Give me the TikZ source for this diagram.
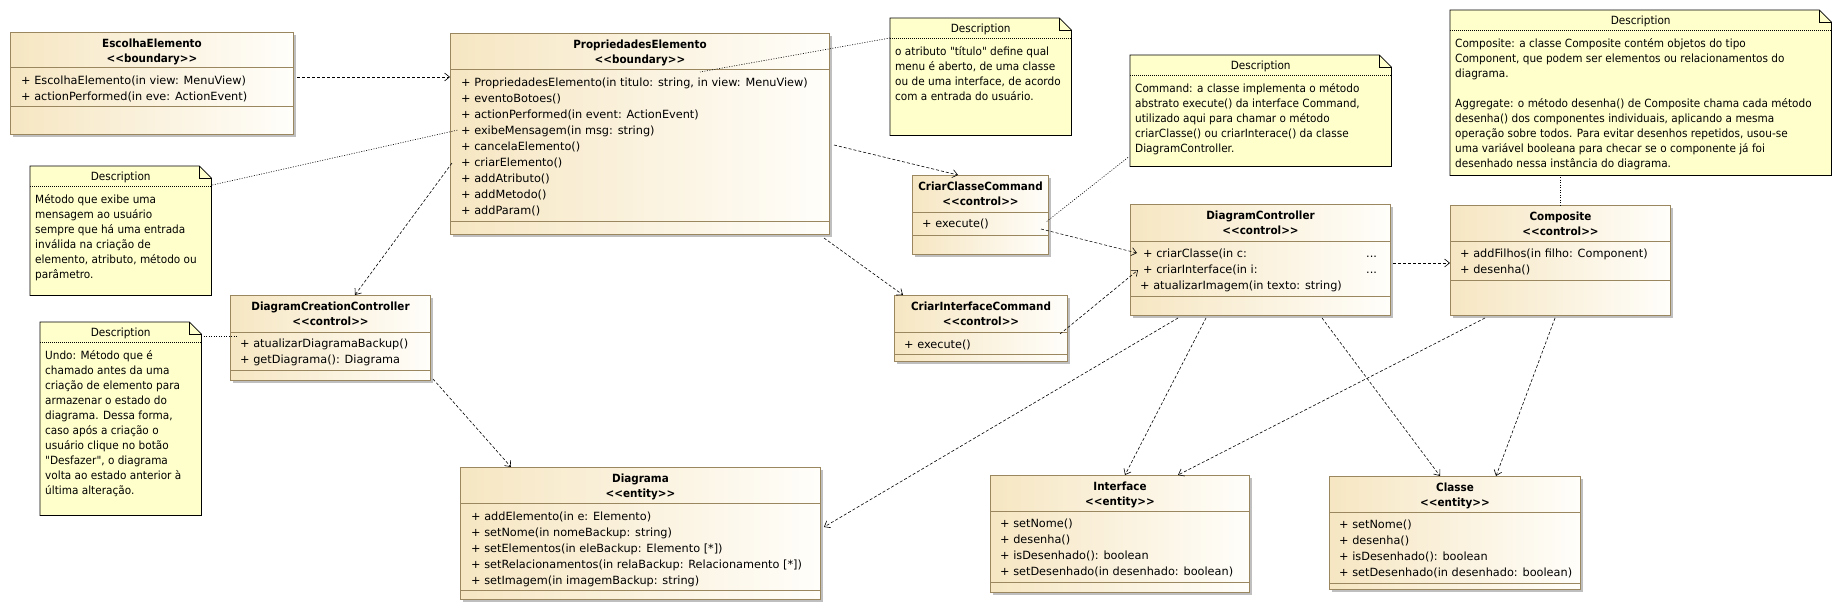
\documentclass[tikz,border=0pt]{standalone}
\usepackage{fontspec}
\setmainfont{DejaVu Sans}
\newfontfamily\tfont[FakeStretch=0.92]{DejaVu Sans}
\newfontfamily\nfont[FakeStretch=0.93]{DejaVu Sans}
\usetikzlibrary{calc,arrows.meta,shadows}
\definecolor{cborder}{RGB}{155,135,95}
\definecolor{ctan}{RGB}{246,230,194}
\definecolor{cwhite}{RGB}{255,254,250}
\definecolor{notefill}{RGB}{255,255,204}
\tikzset{
 classbox/.style={rectangle, draw=cborder, line width=1pt, left color=ctan, right color=cwhite, inner sep=0pt, anchor=north west,
   drop shadow={shadow xshift=2pt, shadow yshift=-2pt, fill=black, opacity=0.25}},
 classline/.style={draw=cborder, line width=1pt},
 ttext/.style={font=\tfont\bfseries\fontsize{11.3}{14}\selectfont, inner sep=0pt, anchor=base},
 htext/.style={font=\nfont\fontsize{11.3}{14}\selectfont, inner sep=0pt, anchor=base},
 mtext/.style={font=\fontsize{11.3}{14}\selectfont, inner sep=0pt, anchor=base west},
 ntext/.style={font=\nfont\fontsize{11.3}{14}\selectfont, inner sep=0pt, anchor=base west},
 notebody/.style={draw=none, fill=none, inner sep=0pt, anchor=north west},
 noteshape/.style={draw=black, fill=notefill, line width=0.8pt},
 dep/.style={draw=black, line width=0.6pt, dash pattern=on 3pt off 2pt, -{Straight Barb[length=5pt,width=8pt]}},
 notelink/.style={draw=black, line width=0.6pt, dash pattern=on 1pt off 1.5pt},
}
% name, pos, w, h, h1, h2
\newcommand{\umlbox}[6]{%
 \node[classbox, minimum width=#3pt, minimum height=#4pt] (#1) at (#2) {};
 \draw[classline] ($(#1.north west)+(0,#5)$) -- ($(#1.north east)+(0,#5)$);
 \draw[classline] ($(#1.north west)+(0,#6)$) -- ($(#1.north east)+(0,#6)$);
}
% name, title, stereotype
\newcommand{\umltitle}[3]{%
 \node[ttext] (#1-title) at ($(#1.north)+(0,15)$) {#2};
 \node[ttext] (#1-stereo) at ($(#1.north)+(0,30)$) {<{}<#3>{}>};
}
% name, dx, first baseline, list
\newcommand{\umlmethods}[4]{%
 \foreach \m [count=\i from 0] in {#4} {
   \node[mtext] (#1-m\i) at ($(#1.north west)+(#2,{#3+16*\i})$) {\m};
 }
}
% name, pos, w, h, lines
\newcommand{\umlnote}[5]{%
 \node[notebody, minimum width=#3pt, minimum height=#4pt] (#1) at (#2) {};
 \draw[noteshape] (#1.north west) -- ($(#1.north east)+(-12,0)$) -- ($(#1.north east)+(0,12)$) -- (#1.south east) -- (#1.south west) -- cycle;
 \draw[black, line width=0.8pt] ($(#1.north east)+(-12,0)$) -- ($(#1.north east)+(-12,12)$) -- ($(#1.north east)+(0,12)$);
 \draw[black, line width=0.6pt, dash pattern=on 1pt off 1pt] ($(#1.north west)+(0,20)$) -- ($(#1.north east)+(0,20)$);
 \node[htext] (#1-head) at ($(#1.north)+(0,14)$) {Description};
 \foreach \l [count=\i from 0] in {#5} {
   \node[ntext] (#1-l\i) at ($(#1.north west)+(5,{37+15*\i})$) {\l};
 }
}
\begin{document}
\begin{tikzpicture}[x=1pt,y=-1pt]
\useasboundingbox (0,0) rectangle (1841,611);

% classes
\umlbox{esc}{10,32}{283}{102}{35}{74}
\umltitle{esc}{EscolhaElemento}{boundary}
\umlmethods{esc}{11}{52}{{+ EscolhaElemento(in view: MenuView)},{+ actionPerformed(in eve: ActionEvent)}}

\umlbox{prop}{450,33}{379}{201}{36}{188}
\umltitle{prop}{PropriedadesElemento}{boundary}
\umlmethods{prop}{11}{53}{{+ PropriedadesElemento(in titulo: string, in view: MenuView)},{+ eventoBotoes()},{+ actionPerformed(in event: ActionEvent)},{+ exibeMensagem(in msg: string)},{+ cancelaElemento()},{+ criarElemento()},{+ addAtributo()},{+ addMetodo()},{+ addParam()}}

\umlbox{ccc}{912,175}{136}{79}{37}{60}
\umltitle{ccc}{CriarClasseCommand}{control}
\umlmethods{ccc}{10}{52}{{+ execute()}}

\umlbox{cic}{894,295}{173}{66}{37}{59}
\umltitle{cic}{CriarInterfaceCommand}{control}
\umlmethods{cic}{10}{53}{{+ execute()}}

\umlbox{dc}{1130,204}{260}{111}{37}{92}
\umltitle{dc}{DiagramController}{control}
\umlmethods{dc}{13}{53}{{+ criarClasse(in c:},{+ criarInterface(in i:}}
\node[mtext] (dc-m2) at ($(dc.north west)+(10,85)$) {+ atualizarImagem(in texto: string)};
\node[mtext] (dc-d0) at ($(dc.north west)+(236,53)$) {...};
\node[mtext] (dc-d1) at ($(dc.north west)+(236,69)$) {...};

\umlbox{comp}{1450,205}{220}{110}{36}{75}
\umltitle{comp}{Composite}{control}
\umlmethods{comp}{10}{52}{{+ addFilhos(in filho: Component)},{+ desenha()}}

\umlbox{dcc}{230,295}{200}{85}{37}{75}
\umltitle{dcc}{DiagramCreationController}{control}
\umlmethods{dcc}{10}{52}{{+ atualizarDiagramaBackup()},{+ getDiagrama(): Diagrama}}

\umlbox{diag}{460,467}{360}{132}{36}{123}
\umltitle{diag}{Diagrama}{entity}
\umlmethods{diag}{11}{53}{{+ addElemento(in e: Elemento)},{+ setNome(in nomeBackup: string)},{+ setElementos(in eleBackup: Elemento [*])},{+ setRelacionamentos(in relaBackup: Relacionamento [*])},{+ setImagem(in imagemBackup: string)}}

\umlbox{iface}{990,475}{259}{117}{36}{107}
\umltitle{iface}{Interface}{entity}
\umlmethods{iface}{10}{52}{{+ setNome()},{+ desenha()},{+ isDesenhado(): boolean},{+ setDesenhado(in desenhado: boolean)}}

\umlbox{classe}{1329,476}{251}{113}{36}{107}
\umltitle{classe}{Classe}{entity}
\umlmethods{classe}{10}{52}{{+ setNome()},{+ desenha()},{+ isDesenhado(): boolean},{+ setDesenhado(in desenhado: boolean)}}

% notes
\umlnote{n1}{30,166}{181}{129}{{Método que exibe uma},{mensagem ao usuário},{sempre que há uma entrada},{inválida na criação de},{elemento, atributo, método ou},{parâmetro.}}
\umlnote{n2}{890,18}{181}{117}{{o atributo "título" define qual},{menu é aberto, de uma classe},{ou de uma interface, de acordo},{com a entrada do usuário.}}
\umlnote{n3}{1130,55}{261}{111}{{Command: a classe implementa o método},{abstrato execute() da interface Command,},{utilizado aqui para chamar o método},{criarClasse() ou criarInterace() da classe},{DiagramController.}}
\umlnote{n4}{1450,10}{381}{165}{{Composite: a classe Composite contém objetos do tipo},{Component, que podem ser elementos ou relacionamentos do},{diagrama.},{},{Aggregate: o método desenha() de Composite chama cada método},{desenha() dos componentes individuais, aplicando a mesma},{operação sobre todos. Para evitar desenhos repetidos, usou-se},{uma variável booleana para checar se o componente já foi},{desenhado nessa instância do diagrama.}}
\umlnote{n5}{40,322}{161}{193}{{Undo: Método que é},{chamado antes da uma},{criação de elemento para},{armazenar o estado do},{diagrama. Dessa forma,},{caso após a criação o},{usuário clique no botão},{"Desfazer", o diagrama},{volta ao estado anterior à},{última alteração.}}

% connectors
\draw[dep] ($(esc.north east)+(3,45)$) -- ($(prop.north west)+(0,44)$);
\draw[notelink] ($(n1.north east)+(1,19)$) -- ($(prop.north west)+(8,97)$);
\draw[notelink] ($(n2.north west)+(0,20)$) -- ($(prop.north west)+(250,39)$);
\draw[dep] ($(prop.north east)+(4,112)$) -- ($(ccc.north west)+(46,0)$);
\draw[dep] ($(prop.south east)+(-6,3)$) -- ($(cic.north west)+(9,0)$);
\draw[dep] ($(prop.north west)+(2,130)$) -- ($(dcc.north west)+(125,0)$);
\draw[dep] ($(dcc.south east)+(2,-2)$) -- ($(diag.north west)+(51,0)$);
\draw[notelink] ($(n5.north east)+(0,14)$) -- ($(dcc.north west)+(8,41)$);
\draw[notelink] ($(n3.south west)+(-2,-9)$) -- ($(ccc.north west)+(134,47)$);
\draw[dep] ($(ccc.north west)+(129,54)$) -- ($(dc.north west)+(7,49)$);
\draw[dep] ($(cic.north west)+(166,39)$) -- ($(dc.north west)+(8,66)$);
\draw[dep] ($(dc.north east)+(2,59)$) -- ($(comp.north west)+(0,58)$);
\draw[notelink] ($(n4.south west)+(110,2)$) -- ($(comp.north west)+(110,0)$);
\draw[dep] ($(dc.south west)+(48,2)$) -- ($(diag.north east)+(3,60)$);
\draw[dep] ($(dc.south west)+(76,2)$) -- ($(iface.north west)+(135,0)$);
\draw[dep] ($(dc.south west)+(192,2)$) -- ($(classe.north west)+(111,0)$);
\draw[dep] ($(comp.south west)+(35,2)$) -- ($(iface.north west)+(188,0)$);
\draw[dep] ($(comp.south west)+(105,2)$) -- ($(classe.north west)+(167,0)$);
\end{tikzpicture}
\end{document}
